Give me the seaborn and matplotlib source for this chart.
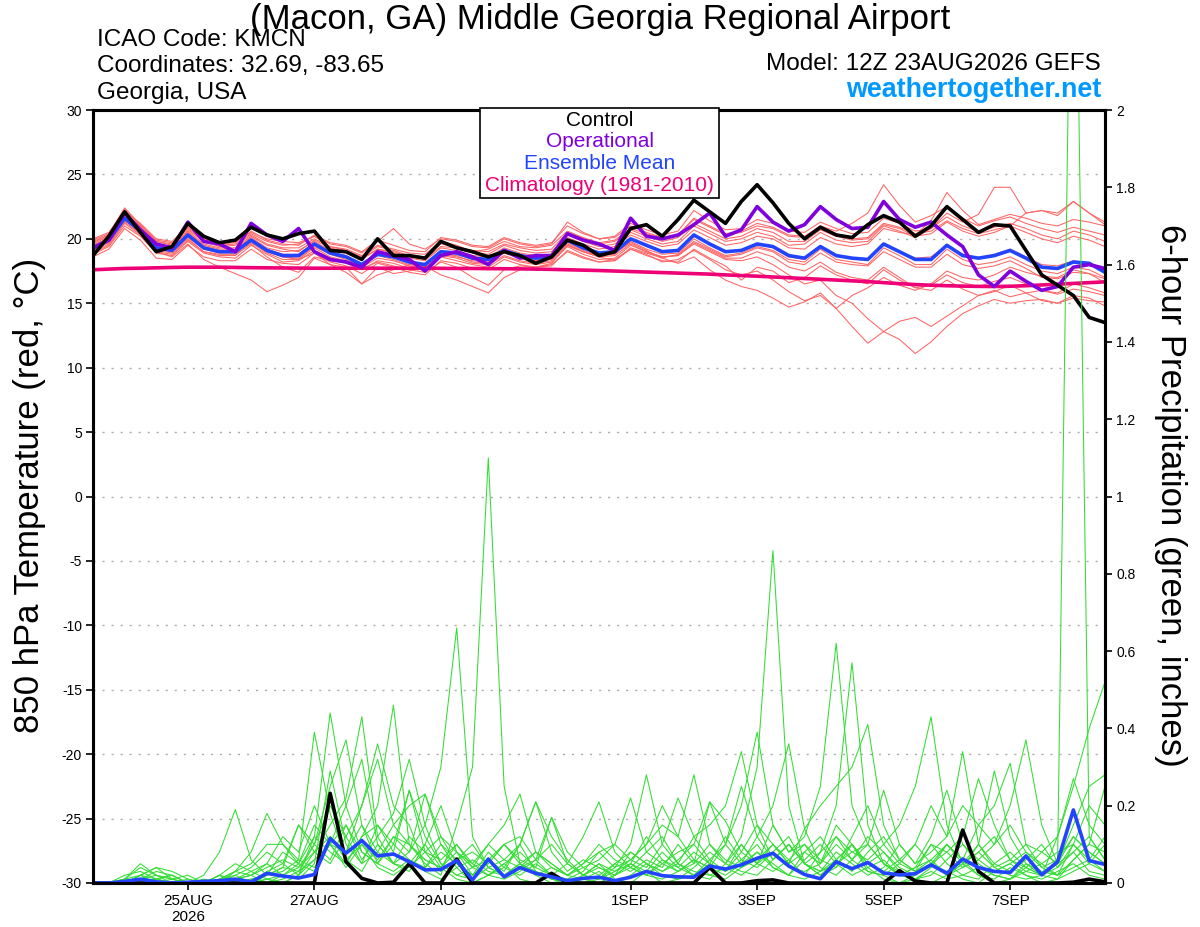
import numpy as np
import pandas as pd
import matplotlib
matplotlib.use('Agg')
import matplotlib.pyplot as plt
import matplotlib.patches as mpatches
import seaborn as sns

# 6-hourly valid times, 12Z 23AUG2026 run
times = pd.date_range('2026-08-23 12:00', periods=65, freq='6h')

# 850 hPa temperature (C)
t_control = [18.7, 20.2, 22.1, 20.5, 19.0, 19.4, 21.2, 20.2, 19.7, 19.9,
             20.9, 20.3, 20.0, 20.4, 20.6, 19.1, 19.0, 18.4, 20.0, 18.7,
             18.7, 18.5, 19.8, 19.3, 19.0, 18.6, 19.0, 18.7, 18.1, 18.6,
             19.9, 19.5, 18.7, 19.0, 20.8, 21.1, 20.2, 21.5, 23.0, 22.1,
             21.2, 22.9, 24.2, 22.8, 21.2, 20.0, 20.9, 20.3, 20.1, 21.1,
             21.8, 21.3, 20.2, 21.0, 22.5, 21.5, 20.5, 21.1, 21.0, 19.1,
             17.2, 16.4, 15.6, 13.9, 13.5]
t_oper = [19.3, 19.9, 22.0, 20.7, 19.6, 19.3, 21.3, 19.8, 19.6, 19.0,
          21.2, 20.3, 19.8, 20.8, 19.0, 18.4, 18.2, 17.8, 19.0, 18.7,
          18.4, 17.5, 18.7, 19.0, 18.6, 18.0, 19.1, 18.5, 18.7, 18.7,
          20.4, 19.9, 19.6, 19.1, 21.6, 20.2, 20.0, 20.3, 21.1, 22.0,
          20.2, 20.7, 22.5, 21.3, 20.6, 21.1, 22.5, 21.5, 20.8, 20.9,
          22.9, 21.5, 20.9, 21.3, 20.3, 19.4, 17.2, 16.3, 17.5, 16.7,
          16.0, 16.3, 17.8, 18.0, 17.7]
t_mean = [19.3, 19.9, 21.6, 20.6, 19.3, 19.1, 20.3, 19.3, 19.0, 19.0,
          19.9, 19.1, 18.7, 18.7, 19.6, 18.9, 18.6, 18.0, 18.8, 18.6,
          18.2, 18.0, 19.0, 18.9, 18.5, 18.4, 19.1, 18.7, 18.5, 18.6,
          19.9, 19.3, 18.9, 19.0, 20.0, 19.5, 19.0, 19.1, 20.3, 19.6,
          19.0, 19.1, 19.6, 19.4, 18.7, 18.5, 19.4, 18.7, 18.5, 18.4,
          19.6, 19.0, 18.4, 18.4, 19.5, 18.7, 18.5, 18.7, 19.1, 18.5,
          17.8, 17.7, 18.2, 18.1, 17.4]
t_climo = [17.6, 17.65, 17.7, 17.72, 17.75, 17.78, 17.8, 17.8, 17.8, 17.78,
           17.76, 17.75, 17.74, 17.73, 17.72, 17.72, 17.72, 17.72, 17.72, 17.72,
           17.72, 17.72, 17.71, 17.7, 17.7, 17.69, 17.68, 17.67, 17.65, 17.63,
           17.6, 17.57, 17.54, 17.5, 17.46, 17.42, 17.38, 17.34, 17.3, 17.26,
           17.2, 17.15, 17.1, 17.04, 16.98, 16.92, 16.86, 16.8, 16.74, 16.68,
           16.6, 16.52, 16.45, 16.4, 16.36, 16.33, 16.31, 16.3, 16.32, 16.36,
           16.42, 16.48, 16.54, 16.6, 16.66]
t_members = [
    [19.8, 20.3, 22.3, 21.0, 19.8, 19.6, 20.9, 19.9, 19.5, 19.6, 20.4, 19.8, 19.5, 19.6, 20.2, 19.4, 19.2, 18.7, 19.5, 19.2,
     18.9, 18.8, 19.8, 19.5, 19.0, 19.2, 19.8, 19.4, 19.3, 19.5, 20.6, 20.1, 19.7, 19.9, 20.8, 20.4, 20.0, 20.3, 21.5, 20.9,
     20.3, 20.5, 21.0, 20.8, 20.2, 20.1, 21.0, 20.6, 21.2, 22.0, 24.2, 22.6, 21.3, 21.8, 22.5, 21.6, 21.0, 21.4, 21.7, 21.2,
     20.8, 20.5, 20.9, 20.6, 20.3],
    [18.8, 19.4, 21.0, 20.2, 18.9, 18.7, 19.8, 18.9, 18.6, 18.5, 19.5, 18.8, 18.2, 18.3, 19.1, 18.5, 18.1, 17.6, 18.3, 18.1,
     17.7, 17.6, 18.6, 18.3, 18.0, 17.8, 18.6, 18.2, 18.0, 18.2, 19.4, 18.8, 18.4, 18.5, 19.5, 19.0, 18.6, 18.7, 19.6, 19.0,
     18.4, 18.3, 18.6, 18.0, 17.2, 16.5, 16.8, 15.6, 15.0, 13.8, 12.8, 12.2, 11.1, 12.0, 13.2, 14.2, 14.8, 15.3, 15.0, 15.2,
     15.3, 15.0, 15.4, 15.2, 15.1],
    [19.0, 19.6, 21.3, 20.4, 19.1, 18.9, 20.0, 19.0, 18.8, 18.8, 19.6, 18.6, 17.8, 17.4, 18.6, 18.3, 18.2, 17.7, 18.2, 17.9,
     17.6, 17.4, 18.2, 17.8, 17.0, 16.4, 17.6, 17.9, 17.8, 18.0, 19.0, 18.5, 18.2, 18.4, 19.2, 18.8, 18.2, 18.4, 19.1, 18.4,
     17.6, 17.2, 17.5, 16.8, 15.9, 15.2, 15.6, 14.6, 13.2, 11.9, 12.8, 13.6, 13.9, 13.2, 14.0, 14.8, 15.6, 16.0, 15.5, 15.8,
     16.0, 15.7, 16.1, 15.9, 15.6],
    [19.6, 20.2, 21.9, 20.9, 19.6, 19.4, 20.6, 19.6, 19.3, 19.3, 20.2, 19.5, 19.2, 19.0, 19.9, 19.3, 19.0, 18.5, 19.2, 19.0,
     18.6, 18.4, 19.4, 19.3, 18.9, 18.8, 19.5, 19.1, 18.9, 19.0, 20.3, 19.8, 19.4, 19.6, 20.5, 20.0, 19.6, 19.8, 21.0, 20.4,
     19.8, 20.0, 20.5, 20.2, 19.5, 19.6, 20.5, 19.9, 19.7, 19.8, 21.0, 20.6, 20.1, 20.8, 22.0, 21.3, 21.9, 24.0, 24.0, 22.0,
     22.2, 22.0, 22.9, 22.0, 21.1],
    [19.2, 19.7, 21.4, 20.5, 19.0, 18.6, 19.6, 18.4, 17.8, 17.3, 16.8, 15.9, 16.4, 17.0, 18.5, 18.0, 17.8, 16.5, 17.8, 17.3,
     17.5, 17.8, 18.8, 18.7, 18.2, 18.1, 19.0, 18.5, 18.3, 18.4, 19.6, 19.0, 18.7, 18.8, 19.8, 19.2, 18.8, 18.9, 20.0, 19.3,
     18.7, 18.9, 19.4, 19.1, 18.4, 18.2, 19.2, 18.4, 18.2, 18.0, 19.3, 18.7, 18.0, 18.0, 19.2, 18.4, 18.0, 18.2, 18.6, 18.0,
     17.5, 17.3, 17.8, 17.6, 17.0],
    [19.4, 20.0, 21.7, 20.7, 19.4, 19.2, 20.4, 19.4, 19.1, 19.1, 20.0, 19.2, 18.8, 18.8, 19.7, 19.0, 18.7, 18.1, 18.9, 18.6,
     18.2, 17.9, 17.2, 16.8, 16.3, 15.8, 17.0, 17.6, 17.8, 18.1, 19.5, 19.0, 18.6, 18.3, 19.3, 18.9, 18.5, 18.8, 19.8, 19.2,
     18.6, 18.8, 19.3, 19.0, 18.2, 18.0, 18.9, 18.2, 18.0, 17.9, 19.0, 18.4, 17.8, 17.8, 18.8, 18.0, 17.7, 17.9, 18.3, 17.7,
     17.0, 16.9, 17.4, 17.3, 16.6],
    [20.0, 20.5, 22.1, 21.2, 20.0, 19.8, 21.0, 20.0, 19.7, 19.8, 20.5, 20.0, 19.8, 19.7, 20.2, 19.6, 19.4, 18.9, 19.8, 20.8,
     19.6, 19.2, 20.0, 19.8, 19.4, 19.3, 20.0, 19.6, 19.4, 19.6, 21.3, 20.5, 20.0, 20.2, 21.2, 20.7, 20.3, 20.6, 22.2, 21.4,
     20.7, 20.8, 21.5, 21.2, 20.6, 20.5, 21.3, 20.8, 20.4, 20.5, 21.6, 21.2, 20.6, 20.8, 21.7, 21.0, 20.6, 20.9, 21.2, 20.8,
     20.3, 20.0, 20.6, 20.3, 19.8],
    [18.6, 19.2, 20.8, 19.9, 18.5, 18.4, 19.5, 18.6, 18.3, 18.3, 19.2, 18.4, 18.1, 18.0, 18.9, 18.2, 17.9, 17.3, 18.1, 17.8,
     17.4, 17.2, 18.3, 18.1, 17.7, 17.6, 18.4, 18.0, 17.8, 17.9, 19.1, 18.6, 18.2, 18.3, 19.2, 18.7, 18.3, 18.2, 19.2, 18.5,
     17.9, 16.8, 17.8, 17.5, 16.6, 17.0, 17.9, 17.2, 16.8, 16.5, 17.6, 16.8, 16.2, 16.4, 17.2, 16.6, 16.3, 16.7, 17.0, 16.5,
     16.0, 15.8, 16.5, 16.2, 15.8],
    [19.1, 19.8, 21.6, 20.6, 19.3, 19.0, 20.1, 19.2, 18.9, 18.9, 19.8, 19.0, 18.6, 18.5, 19.4, 18.8, 18.4, 17.9, 18.7, 18.4,
     18.0, 17.8, 18.8, 18.6, 18.3, 18.2, 18.9, 18.5, 18.3, 18.5, 19.7, 19.1, 18.7, 18.9, 19.7, 19.1, 18.5, 18.1, 18.6, 17.6,
     16.8, 16.3, 16.0, 15.4, 14.7, 15.1, 15.8, 14.6, 15.6, 16.2, 17.0, 16.4, 16.0, 16.5, 17.5, 17.0, 16.8, 17.2, 17.8, 17.4,
     17.1, 17.0, 17.6, 17.3, 16.9],
    [19.5, 20.1, 22.0, 20.8, 19.5, 19.3, 20.5, 19.5, 19.2, 19.2, 20.1, 19.3, 19.0, 19.1, 19.8, 19.1, 18.9, 18.4, 19.2, 18.9,
     18.5, 18.3, 19.3, 19.1, 18.7, 18.6, 19.3, 18.9, 18.7, 18.8, 20.1, 19.6, 19.2, 19.4, 20.3, 19.8, 19.4, 19.6, 20.7, 20.1,
     19.5, 19.7, 20.2, 20.0, 19.3, 19.2, 20.1, 19.6, 19.4, 19.6, 20.8, 20.5, 20.3, 21.4, 23.6, 22.2, 21.1, 21.5, 21.9, 21.6,
     21.2, 21.0, 21.5, 21.3, 21.0],
    [19.3, 19.9, 21.5, 20.5, 19.2, 19.0, 20.2, 19.2, 19.0, 19.0, 19.9, 19.1, 18.6, 18.4, 18.9, 18.0, 17.4, 16.5, 17.2, 17.6,
     18.0, 18.1, 19.0, 18.8, 18.4, 18.3, 19.0, 18.6, 18.4, 18.6, 19.8, 19.2, 18.9, 19.0, 20.0, 19.4, 19.0, 19.1, 20.2, 19.6,
     19.0, 19.1, 19.6, 19.3, 18.6, 18.4, 19.4, 18.7, 18.5, 18.4, 19.6, 19.0, 18.5, 18.6, 19.5, 18.8, 18.5, 18.8, 19.2, 18.6,
     18.0, 17.9, 18.3, 18.1, 17.5],
    [19.7, 20.3, 22.0, 21.0, 19.8, 19.5, 20.7, 19.8, 19.4, 19.5, 20.3, 19.6, 19.3, 19.3, 20.0, 19.4, 19.1, 18.6, 19.4, 19.1,
     18.7, 18.6, 19.6, 19.4, 19.1, 19.0, 19.6, 19.3, 19.1, 19.2, 20.5, 20.0, 19.6, 19.8, 20.7, 20.2, 19.8, 20.1, 21.2, 20.6,
     20.0, 20.2, 20.8, 20.5, 19.8, 19.8, 20.7, 20.2, 19.9, 20.0, 21.1, 20.8, 20.2, 20.4, 21.3, 20.6, 20.2, 20.5, 21.0, 22.0,
     22.2, 21.8, 22.9, 22.0, 21.3],
    [18.9, 19.5, 21.2, 20.3, 19.0, 18.8, 19.9, 19.0, 18.7, 18.7, 19.7, 18.9, 18.4, 18.4, 19.3, 18.6, 18.3, 17.8, 18.5, 18.3,
     17.9, 17.7, 18.7, 18.5, 18.1, 18.0, 18.7, 18.3, 18.1, 18.3, 19.5, 19.0, 18.6, 18.7, 19.6, 19.0, 18.6, 18.7, 19.7, 19.1,
     18.5, 18.5, 19.0, 18.6, 17.8, 17.5, 18.2, 17.4, 17.0, 16.8, 17.8, 17.0, 16.2, 16.0, 16.8, 16.1, 15.6, 15.9, 16.4, 15.8,
     15.2, 15.0, 15.6, 15.4, 14.8],
    [19.9, 20.4, 22.4, 21.1, 19.9, 19.7, 20.8, 19.9, 19.6, 19.7, 20.6, 19.9, 19.6, 19.5, 20.3, 19.7, 19.5, 19.0, 19.9, 19.5,
     19.1, 19.0, 20.1, 19.9, 19.5, 19.4, 20.1, 19.7, 19.5, 19.7, 21.0, 20.4, 20.0, 20.1, 21.0, 20.5, 20.1, 20.3, 21.6, 21.0,
     20.4, 20.6, 21.2, 20.9, 20.3, 20.2, 21.0, 20.4, 20.0, 20.1, 21.2, 20.9, 20.4, 20.6, 21.4, 20.8, 20.4, 20.7, 21.0, 20.5,
     20.0, 19.7, 20.2, 19.9, 19.4],
]

# 6-hour precipitation (inches)
p_control = [0, 0, 0, 0, 0, 0, 0, 0, 0, 0,
             0, 0, 0, 0, 0, 0.232, 0.055, 0.012, 0, 0.002,
             0.05, 0, 0, 0.062, 0, 0, 0, 0, 0, 0.025,
             0, 0, 0, 0, 0, 0, 0, 0, 0, 0.04,
             0, 0, 0.006, 0.008, 0, 0, 0, 0, 0, 0,
             0, 0.032, 0.005, 0, 0, 0.137, 0.03, 0, 0, 0,
             0, 0, 0.002, 0.01, 0.003]
p_mean = [0, 0, 0.004, 0.01, 0.003, 0, 0.002, 0.004, 0.006, 0.01,
          0.003, 0.025, 0.018, 0.013, 0.022, 0.115, 0.077, 0.11, 0.07, 0.075,
          0.055, 0.034, 0.035, 0.058, 0.008, 0.062, 0.016, 0.04, 0.025, 0.016,
          0.006, 0.012, 0.015, 0.006, 0.015, 0.03, 0.019, 0.016, 0.015, 0.044,
          0.036, 0.047, 0.064, 0.077, 0.044, 0.022, 0.011, 0.055, 0.037, 0.053,
          0.026, 0.021, 0.024, 0.047, 0.025, 0.062, 0.04, 0.03, 0.027, 0.07,
          0.021, 0.055, 0.189, 0.058, 0.048]
p_members = [
    [0, 0, 0.01, 0.02, 0, 0, 0, 0, 0.01, 0.02, 0, 0.03, 0.05, 0.02, 0.12, 0.44, 0.2, 0.08, 0.05, 0.1,
     0.06, 0.03, 0.01, 0.04, 0, 0.02, 0.05, 0.01, 0, 0, 0, 0.01, 0.03, 0, 0.02, 0.05, 0.02, 0.01, 0.04, 0.08,
     0.05, 0.12, 0.3, 0.86, 0.2, 0.05, 0.02, 0.06, 0.1, 0.04, 0.01, 0, 0.02, 0.05, 0.03, 0.01, 0, 0.03, 0.05, 0.02,
     0, 0.01, 0.06, 0.1, 0.08],
    [0, 0, 0, 0.01, 0.02, 0, 0, 0, 0, 0.03, 0.02, 0, 0.01, 0.03, 0.06, 0.1, 0.05, 0.12, 0.2, 0.46,
     0.1, 0.05, 0.02, 0.15, 0.3, 1.1, 0.25, 0.05, 0.02, 0, 0.01, 0, 0, 0.02, 0.05, 0.03, 0, 0.01, 0.02, 0.05,
     0.03, 0.06, 0.1, 0.04, 0.02, 0.08, 0.05, 0.15, 0.1, 0.03, 0.02, 0, 0.01, 0.04, 0.1, 0.06, 0.02, 0, 0.01, 0.05,
     0.03, 0.02, 0.1, 0.06, 0.12],
    [0, 0, 0.02, 0.03, 0.01, 0, 0, 0, 0.02, 0.05, 0.03, 0.01, 0, 0.02, 0.08, 0.15, 0.22, 0.43, 0.12, 0.05,
     0.08, 0.15, 0.3, 0.66, 0.12, 0.04, 0.06, 0.1, 0.03, 0.01, 0, 0.02, 0.05, 0.01, 0, 0.03, 0.08, 0.04, 0.02, 0.01,
     0.05, 0.1, 0.05, 0.15, 0.08, 0.1, 0.04, 0.02, 0.06, 0.12, 0.08, 0.03, 0.01, 0, 0.02, 0.05, 0.1, 0.04, 0.02, 0.01,
     0.02, 0.05, 0.08, 0.03, 0.02],
    [0, 0, 0, 0, 0.01, 0.02, 0, 0, 0, 0, 0.01, 0.02, 0.03, 0.06, 0.39, 0.18, 0.06, 0.1, 0.04, 0.02,
     0.05, 0.1, 0.04, 0.01, 0, 0.02, 0.04, 0.02, 0.05, 0.02, 0, 0, 0.01, 0.03, 0.05, 0.02, 0.01, 0.03, 0.06, 0.02,
     0.01, 0.04, 0.08, 0.05, 0.02, 0.01, 0.03, 0.05, 0.02, 0.04, 0.06, 0.02, 0.01, 0.03, 0.01, 0.02, 0.04, 0.02, 0.01, 0.03,
     0.02, 0.05, 3.0, 0.12, 0.06],
    [0, 0, 0.01, 0.04, 0.02, 0.01, 0, 0.02, 0.08, 0.19, 0.06, 0.02, 0.04, 0.03, 0.1, 0.2, 0.12, 0.05, 0.08, 0.15,
     0.2, 0.23, 0.12, 0.05, 0.02, 0.06, 0.1, 0.05, 0.02, 0.04, 0.02, 0.01, 0, 0.02, 0.04, 0.08, 0.12, 0.05, 0.02, 0.06,
     0.1, 0.2, 0.39, 0.15, 0.08, 0.12, 0.25, 0.62, 0.2, 0.1, 0.05, 0.02, 0.04, 0.1, 0.05, 0.02, 0.01, 0.05, 0.08, 0.04,
     0.02, 0.01, 0.03, 0.05, 0.1],
    [0, 0, 0, 0.02, 0.04, 0.03, 0.01, 0, 0.01, 0.03, 0.08, 0.18, 0.1, 0.05, 0.03, 0.12, 0.08, 0.2, 0.32, 0.15,
     0.1, 0.06, 0.04, 0.1, 0.05, 0.02, 0.01, 0.03, 0.06, 0.1, 0.05, 0.02, 0.01, 0.04, 0.1, 0.28, 0.1, 0.05, 0.03, 0.02,
     0.04, 0.02, 0.05, 0.1, 0.06, 0.02, 0.08, 0.2, 0.57, 0.15, 0.05, 0.03, 0.01, 0.02, 0.06, 0.1, 0.05, 0.02, 0.01, 0.04,
     0.08, 0.05, 0.15, 0.25, 0.28],
    [0, 0, 0, 0, 0, 0.01, 0.02, 0, 0, 0.01, 0.02, 0.05, 0.12, 0.08, 0.2, 0.1, 0.15, 0.06, 0.12, 0.18,
     0.32, 0.15, 0.05, 0.02, 0.01, 0.04, 0.02, 0.05, 0.03, 0.01, 0, 0.02, 0.05, 0.03, 0.06, 0.1, 0.15, 0.12, 0.28, 0.1,
     0.05, 0.03, 0.02, 0.06, 0.1, 0.05, 0.02, 0.04, 0.12, 0.2, 0.1, 0.15, 0.25, 0.43, 0.15, 0.05, 0.02, 0.01, 0.04, 0.02,
     0.01, 0.03, 0.05, 0.02, 0.01],
    [0, 0, 0, 0.01, 0, 0, 0, 0, 0.02, 0, 0, 0.02, 0.04, 0.15, 0.1, 0.25, 0.37, 0.15, 0.08, 0.05,
     0.12, 0.08, 0.06, 0.1, 0.04, 0.1, 0.15, 0.23, 0.08, 0.04, 0.02, 0.05, 0.1, 0.06, 0.04, 0.02, 0.05, 0.08, 0.1, 0.05,
     0.03, 0.08, 0.15, 0.1, 0.05, 0.14, 0.2, 0.25, 0.3, 0.41, 0.15, 0.06, 0.03, 0.05, 0.02, 0.04, 0.06, 0.03, 0.05, 0.08,
     0.05, 0.02, 0.04, 0.06, 0.03],
    [0, 0, 0, 0, 0.01, 0, 0, 0.01, 0, 0, 0.01, 0, 0.02, 0.04, 0.08, 0.05, 0.12, 0.2, 0.36, 0.2,
     0.15, 0.04, 0.08, 0.05, 0.02, 0.08, 0.04, 0.1, 0.21, 0.12, 0.06, 0.02, 0.04, 0.02, 0.08, 0.05, 0.03, 0.05, 0.12, 0.15,
     0.2, 0.34, 0.15, 0.06, 0.1, 0.05, 0.03, 0.08, 0.05, 0.02, 0.04, 0.1, 0.05, 0.08, 0.12, 0.2, 0.15, 0.1, 0.2, 0.37,
     0.15, 0.05, 0.12, 0.08, 0.05],
    [0, 0, 0.01, 0, 0, 0, 0, 0, 0, 0.01, 0.03, 0.05, 0.02, 0.01, 0.05, 0.29, 0.1, 0.05, 0.15, 0.08,
     0.24, 0.12, 0.05, 0.02, 0.04, 0.02, 0.05, 0.08, 0.04, 0.17, 0.05, 0.02, 0.01, 0.05, 0.03, 0.06, 0.04, 0.1, 0.05, 0.21,
     0.1, 0.05, 0.12, 0.2, 0.36, 0.14, 0.05, 0.1, 0.06, 0.03, 0.02, 0.05, 0.1, 0.2, 0.12, 0.34, 0.1, 0.05, 0.03, 0.06,
     0.1, 0.04, 0.08, 0.12, 0.06],
    [0, 0, 0, 0.02, 0.01, 0, 0, 0, 0, 0, 0, 0.01, 0, 0.02, 0.06, 0.1, 0.04, 0.1, 0.06, 0.12,
     0.08, 0.23, 0.1, 0.04, 0.06, 0.03, 0.02, 0.04, 0.06, 0.02, 0.01, 0.03, 0.08, 0.1, 0.22, 0.08, 0.05, 0.03, 0.06, 0.04,
     0.02, 0.05, 0.08, 0.04, 0.02, 0.06, 0.1, 0.05, 0.08, 0.1, 0.05, 0.02, 0.04, 0.06, 0.02, 0.05, 0.08, 0.12, 0.06, 0.04,
     0.02, 0.12, 0.25, 0.4, 0.52],
    [0, 0, 0, 0, 0, 0, 0.01, 0, 0.02, 0.01, 0, 0.02, 0.08, 0.05, 0.15, 0.1, 0.2, 0.32, 0.1, 0.05,
     0.04, 0.08, 0.12, 0.08, 0.02, 0.05, 0.1, 0.06, 0.04, 0.02, 0.05, 0.12, 0.21, 0.08, 0.04, 0.02, 0.06, 0.04, 0.08, 0.05,
     0.12, 0.06, 0.04, 0.08, 0.12, 0.05, 0.03, 0.06, 0.1, 0.05, 0.08, 0.04, 0.02, 0.05, 0.1, 0.06, 0.15, 0.2, 0.31, 0.1,
     0.04, 0.02, 0.06, 0.1, 0.25],
    [0, 0, 0, 0, 0.01, 0.02, 0, 0, 0, 0.02, 0.04, 0.08, 0.05, 0.15, 0.08, 0.12, 0.06, 0.03, 0.1, 0.05,
     0.03, 0.1, 0.2, 0.08, 0.04, 0.06, 0.03, 0.1, 0.21, 0.08, 0.03, 0.06, 0.04, 0.02, 0.05, 0.12, 0.06, 0.03, 0.05, 0.1,
     0.06, 0.04, 0.06, 0.1, 0.05, 0.08, 0.12, 0.06, 0.03, 0.08, 0.12, 0.06, 0.03, 0.1, 0.08, 0.04, 0.1, 0.29, 0.12, 0.05,
     0.02, 0.04, 0.1, 0.05, 0.03],
    [0, 0, 0.01, 0.05, 0.02, 0.01, 0, 0, 0, 0, 0, 0.01, 0.02, 0.05, 0.12, 0.08, 0.05, 0.12, 0.15, 0.1,
     0.24, 0.08, 0.03, 0.06, 0.1, 0.04, 0.02, 0.05, 0.08, 0.05, 0.02, 0.04, 0.06, 0.1, 0.06, 0.04, 0.1, 0.22, 0.12, 0.06,
     0.03, 0.1, 0.05, 0.08, 0.04, 0.03, 0.05, 0.12, 0.08, 0.06, 0.1, 0.05, 0.03, 0.06, 0.1, 0.05, 0.08, 0.04, 0.06, 0.1,
     0.08, 0.12, 0.27, 0.15, 0.1],
    [0, 0, 0, 0.01, 0.03, 0.02, 0, 0, 0.01, 0.03, 0.05, 0.1, 0.1, 0.06, 0.04, 0.1, 0.08, 0.15, 0.05, 0.03,
     0.06, 0.04, 0.1, 0.06, 0.08, 0.05, 0.1, 0.12, 0.06, 0.17, 0.08, 0.04, 0.02, 0.05, 0.08, 0.05, 0.03, 0.06, 0.1, 0.21,
     0.16, 0.08, 0.05, 0.03, 0.06, 0.1, 0.06, 0.04, 0.1, 0.05, 0.03, 0.06, 0.1, 0.05, 0.08, 0.12, 0.27, 0.15, 0.06, 0.03,
     0.05, 0.08, 0.1, 0.2, 0.15],
    [0, 0, 0, 0.02, 0.04, 0.01, 0, 0, 0, 0.01, 0.02, 0.04, 0.06, 0.04, 0.1, 0.06, 0.15, 0.08, 0.05, 0.12,
     0.1, 0.06, 0.04, 0.08, 0.05, 0.1, 0.06, 0.04, 0.08, 0.05, 0.02, 0.05, 0.08, 0.04, 0.06, 0.1, 0.2, 0.12, 0.06, 0.04,
     0.1, 0.25, 0.12, 0.06, 0.1, 0.05, 0.08, 0.12, 0.06, 0.1, 0.24, 0.1, 0.05, 0.12, 0.24, 0.1, 0.06, 0.1, 0.15, 0.08,
     0.04, 0.06, 0.12, 0.08, 0.05],
]

day_ticks = ['2026-08-25', '2026-08-27', '2026-08-29', '2026-09-01',
             '2026-09-03', '2026-09-05', '2026-09-07']
day_labels = ['25AUG\n2026', '27AUG', '29AUG', '1SEP', '3SEP', '5SEP', '7SEP']
precip_ticks = [0, 0.2, 0.4, 0.6, 0.8, 1.0, 1.2, 1.4, 1.6, 1.8, 2.0]
precip_labels = ['0', '0.2', '0.4', '0.6', '0.8', '1', '1.2', '1.4', '1.6', '1.8', '2']

for s in [t_control, t_oper, t_mean, t_climo, p_control, p_mean] + t_members + p_members:
    assert len(s) == len(times)

sns.set_theme(style='white')
plt.rcParams['font.family'] = ['Liberation Sans', 'DejaVu Sans']
plt.rcParams['text.color'] = 'black'

W, H = 1200, 927
fig = plt.figure(figsize=(W / 100, H / 100), dpi=100)
ax = fig.add_axes([93 / W, 1 - 883 / H, 1012 / W, 773 / H])
ax2 = ax.twinx()

# long tables for the ensemble members
df_t = pd.DataFrame([(times[i], k, v) for k, m in enumerate(t_members) for i, v in enumerate(m)],
                    columns=['time', 'member', 'temp'])
df_p = pd.DataFrame([(times[i], k, v) for k, m in enumerate(p_members) for i, v in enumerate(m)],
                    columns=['time', 'member', 'precip'])

sns.lineplot(data=df_t, x='time', y='temp', units='member', estimator=None,
             color='#ff6464', linewidth=0.75, ax=ax, legend=False)
sns.lineplot(x=times, y=t_climo, color='#ee0077', linewidth=2.6, ax=ax)
sns.lineplot(x=times, y=t_mean, color='#2244ff', linewidth=2.6, ax=ax)
sns.lineplot(x=times, y=t_oper, color='#8000dd', linewidth=2.6, ax=ax)
sns.lineplot(x=times, y=t_control, color='black', linewidth=2.6, ax=ax)

sns.lineplot(data=df_p, x='time', y='precip', units='member', estimator=None,
             color='#33dd33', linewidth=0.75, ax=ax2, legend=False)
sns.lineplot(x=times, y=p_control, color='black', linewidth=2.6, ax=ax2)
sns.lineplot(x=times, y=p_mean, color='#2244ff', linewidth=2.6, ax=ax2)

ax.set_xlim(times[0], times[-1])
ax.set_ylim(-30, 30)
ax2.set_ylim(0, 2)
ax.set_yticks(range(-30, 31, 5))
ax.set_yticklabels([str(v) for v in range(-30, 31, 5)])
ax2.set_yticks(precip_ticks)
ax2.set_yticklabels(precip_labels)
ax.set_xticks(pd.to_datetime(day_ticks))
ax.set_xticklabels(day_labels)
ax.set_xlabel('')
ax.set_ylabel('')
ax2.set_ylabel('')

ax.yaxis.grid(True, color='#aaaaaa', linestyle=(0, (1.5, 5)), linewidth=1)
ax.xaxis.grid(False)
ax2.grid(False)

for a in (ax, ax2):
    for sp in a.spines.values():
        sp.set_linewidth(2.2)
        sp.set_color('black')
ax.tick_params(axis='y', left=True, direction='out', length=5, width=1.2,
               labelsize=10, pad=3, colors='black')
ax.tick_params(axis='x', bottom=True, direction='out', length=5, width=1.2,
               labelsize=11, pad=3, colors='black')
ax2.tick_params(axis='y', right=True, direction='out', length=5, width=1.2,
                labelsize=10, pad=3, colors='black')
for lab in ax.get_xticklabels():
    lab.set_family(['Liberation Sans Narrow', 'Liberation Sans'])

# header text
fig.text(600 / W, 1 - 19 / H, '(Macon, GA) Middle Georgia Regional Airport',
         ha='center', va='center', fontsize=25, color='black')
fig.text(97 / W, 1 - 40 / H, 'ICAO Code: KMCN', ha='left', va='center', fontsize=17.5, color='black')
fig.text(97 / W, 1 - 66 / H, 'Coordinates: 32.69, -83.65', ha='left', va='center', fontsize=17.5, color='black')
fig.text(97 / W, 1 - 93 / H, 'Georgia, USA', ha='left', va='center', fontsize=17.5, color='black')
fig.text(1101 / W, 1 - 64 / H, 'Model: 12Z 23AUG2026 GEFS', ha='right', va='center',
         fontsize=17.5, color='black')
fig.text(1101 / W, 1 - 90 / H, 'weathertogether.net', ha='right', va='center',
         fontsize=19.4, fontweight='bold', color='#0099ff')

fig.text(30 / W, 1 - 495 / H, '850 hPa Temperature (red, °C)', rotation=90,
         ha='center', va='center', fontsize=25, color='black')
fig.text(1170 / W, 1 - 495 / H, '6-hour Precipitation (green, inches)', rotation=270,
         ha='center', va='center', fontsize=25, color='black')

# legend box
box = mpatches.Rectangle((0.3824, 0.8862), 0.2362, 0.1164, transform=ax2.transAxes,
                         facecolor='white', edgecolor='black', linewidth=1.2,
                         clip_on=False, zorder=10)
ax2.add_patch(box)
legend_items = [('Control', 'black'), ('Operational', '#8000dd'),
                ('Ensemble Mean', '#2244ff'), ('Climatology (1981-2010)', '#ee0077')]
for k, (txt, col) in enumerate(legend_items):
    ax2.text(0.5005, 0.987 - k * 0.0282, txt, transform=ax2.transAxes, ha='center',
             va='center', fontsize=15, color=col, zorder=11)

fig.savefig('out.png', dpi=100)
